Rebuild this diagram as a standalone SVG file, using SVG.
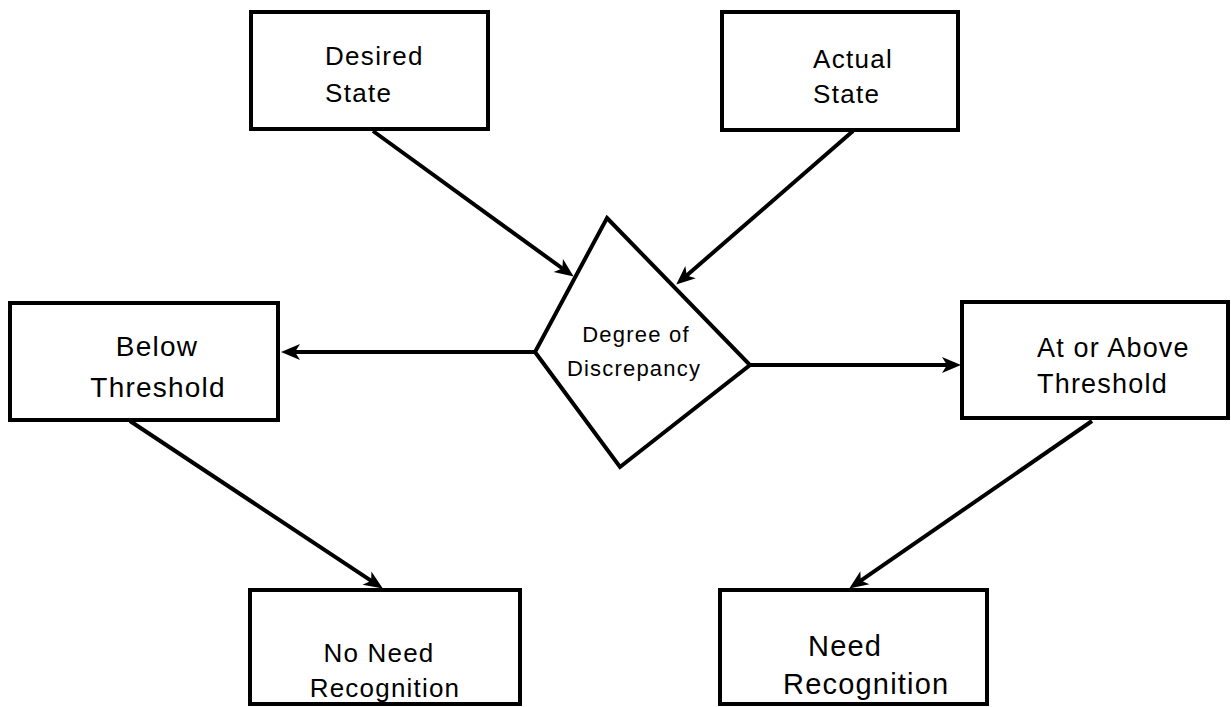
<svg xmlns="http://www.w3.org/2000/svg" width="1231" height="707" viewBox="0 0 1231 707">
<style>
.box{fill:#fff;stroke:#000;stroke-width:4}
.lbl{font-family:"Liberation Sans",Arial,sans-serif;fill:#000}
.conn{stroke:#000;stroke-width:4;fill:none;marker-end:url(#ah)}
</style>
<defs>
<marker id="ah" markerUnits="userSpaceOnUse" markerWidth="24" markerHeight="20" refX="12" refY="0" orient="auto" overflow="visible">
<path d="M0,-8 L19,0 L0,8 L5,0 Z" fill="#000"/>
</marker>
</defs>
<rect width="1231" height="707" fill="#fff"/>
<g id="connectors">
<line class="conn" x1="373" y1="131" x2="568" y2="272.5"/>
<line class="conn" x1="853" y1="131" x2="681.5" y2="280"/>
<line class="conn" x1="535" y1="352" x2="288" y2="352"/>
<line class="conn" x1="750" y1="365" x2="954" y2="365"/>
<line class="conn" x1="130" y1="421" x2="377" y2="584.7"/>
<line class="conn" x1="1092" y1="421" x2="855" y2="584.6"/>
</g>
<g id="desired">
<rect class="box" x="251" y="12" width="237" height="117"/>
<text class="lbl" font-size="26" letter-spacing="1.3" x="325" y="65">Desired</text>
<text class="lbl" font-size="26" letter-spacing="1.3" x="325" y="102">State</text>
</g>
<g id="actual">
<rect class="box" x="722" y="12" width="236" height="118"/>
<text class="lbl" font-size="26" letter-spacing="1.3" x="813" y="68">Actual</text>
<text class="lbl" font-size="26" letter-spacing="1.3" x="813" y="103">State</text>
</g>
<g id="discrepancy">
<polygon class="box" points="607,218 750,365 620,467 535,352" stroke-linejoin="miter"/>
<text class="lbl" font-size="22" letter-spacing="1.2" x="636" y="342" text-anchor="middle">Degree of</text>
<text class="lbl" font-size="22" letter-spacing="1.2" x="634" y="376" text-anchor="middle">Discrepancy</text>
</g>
<g id="below">
<rect class="box" x="10" y="303" width="268" height="117"/>
<text class="lbl" font-size="28" letter-spacing="1.2" x="157" y="356" text-anchor="middle">Below</text>
<text class="lbl" font-size="28" letter-spacing="1.2" x="158" y="397" text-anchor="middle">Threshold</text>
</g>
<g id="above">
<rect class="box" x="962" y="302" width="266" height="116"/>
<text class="lbl" font-size="27" letter-spacing="1.2" x="1037" y="357">At or Above</text>
<text class="lbl" font-size="27" letter-spacing="1.2" x="1037" y="393">Threshold</text>
</g>
<g id="noneed">
<rect class="box" x="250" y="590" width="270" height="114"/>
<text class="lbl" font-size="26" letter-spacing="1.2" x="379" y="662" text-anchor="middle">No Need</text>
<text class="lbl" font-size="26" letter-spacing="1.2" x="385" y="697" text-anchor="middle">Recognition</text>
</g>
<g id="need">
<rect class="box" x="720" y="590" width="267" height="114"/>
<text class="lbl" font-size="29" letter-spacing="1.2" x="808" y="656">Need</text>
<text class="lbl" font-size="29" letter-spacing="1.2" x="783" y="694">Recognition</text>
</g>
</svg>
